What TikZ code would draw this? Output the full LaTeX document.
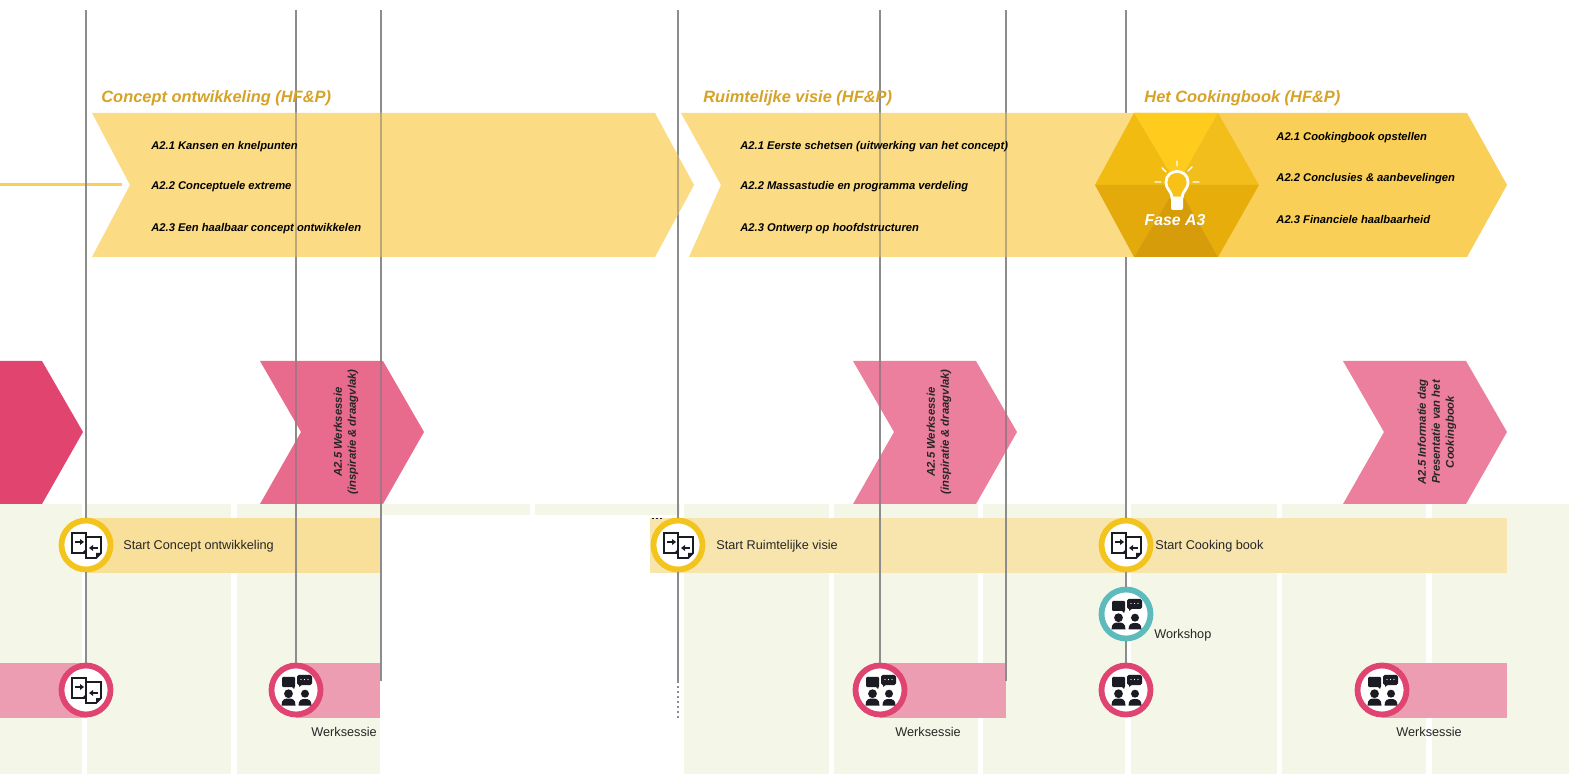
\documentclass[tikz,border=0pt]{standalone}
\usepackage{fontspec}
\setmainfont{Liberation Sans}
\definecolor{panel}{HTML}{F4F6E7}
\definecolor{yelA}{HTML}{FBDC85}
\definecolor{yelB}{HTML}{F9CF57}
\definecolor{bandY}{HTML}{F9E09A}
\definecolor{bandYb}{HTML}{F8E5AE}
\definecolor{bandP}{HTML}{EC9DB1}
\definecolor{pinkA}{HTML}{E0446F}
\definecolor{pinkB}{HTML}{E86B8D}
\definecolor{pinkC}{HTML}{EC7F9E}
\definecolor{ringY}{HTML}{F4C41E}
\definecolor{ringT}{HTML}{5DBBBE}
\definecolor{ringP}{HTML}{DF4570}
\definecolor{vline}{HTML}{8C8C8C}
\definecolor{vlineY}{HTML}{B8A77A}
\definecolor{vlineP}{HTML}{A57585}
\definecolor{gold}{HTML}{D6A227}
\definecolor{icon}{HTML}{1B1B24}
\definecolor{fa}{HTML}{FFCB1C}
\definecolor{fb}{HTML}{F1BB12}
\definecolor{fc}{HTML}{F2BE1C}
\definecolor{fd}{HTML}{E4AA0B}
\definecolor{fe}{HTML}{E6AD0B}
\definecolor{ff}{HTML}{D69C0A}
\tikzset{
  x=0.5pt,y=-0.5pt,
  panelbox/.style={fill=panel,draw=none},
  vl/.style={draw=vline,line width=0.65pt},
  vly/.style={draw=vlineY,line width=0.65pt},
  vlp/.style={draw=vlineP,line width=0.65pt},
  ring/.style={circle,draw=#1,line width=2.9pt,fill=white,minimum size=24.5pt,inner sep=0pt,outer sep=1.45pt},
  titletext/.style={font=\fontsize{8.2}{9}\selectfont\bfseries\itshape,text=gold,anchor=west,inner sep=0pt},
  itemtext/.style={font=\fontsize{5.6}{6.5}\selectfont\bfseries\itshape,text=black,anchor=west,inner sep=0pt},
  labeltext/.style={font=\fontsize{6.35}{7}\selectfont,text=black!85,anchor=west,inner sep=0pt},
  vertext/.style={font=\fontsize{5.65}{7}\selectfont\bfseries\itshape,text=black!85,rotate=90,align=center,inner sep=0pt},
  pics/exch/.style={code={
    \draw[icon,line width=0.9pt,fill=white] (-14,-12) rectangle (0,8);
    \fill[icon] (-4,8) -- (0,8) -- (0,4) -- cycle;
    \draw[icon,line width=0.9pt,fill=white] (0,-8) -- (15,-8) -- (15,8) -- (10,13) -- (0,13) -- cycle;
    \fill[icon] (15,8) -- (10,13) -- (10,8) -- cycle;
    \draw[icon,line width=0.8pt] (-11,-3) -- (-5,-3);
    \fill[icon] (-2,-3) -- (-6,-6) -- (-6,0) -- cycle;
    \draw[icon,line width=0.8pt] (12,3) -- (6,3);
    \fill[icon] (3,3) -- (7,0) -- (7,6) -- cycle;
  }},
  pics/people/.style={code={
    \fill[icon,rounded corners=0.5pt] (-14,-13) rectangle (-1,-3);
    \fill[icon] (-5,-4) -- (-1,-4) -- (-2,-1) -- cycle;
    \fill[icon,rounded corners=0.8pt] (1,-15) rectangle (16,-5);
    \fill[icon] (3,-6) -- (7,-6) -- (3,-3) -- cycle;
    \fill[white] (5,-10.5) circle (0.7) (8.5,-10.5) circle (0.7) (12,-10.5) circle (0.7);
    \fill[icon] (-7.5,3.7) circle (4.4) (9,3.7) circle (4);
    \fill[icon] (-14.5,15.5) .. controls (-14.5,9) and (-11,8.5) .. (-7.5,8.5) .. controls (-4,8.5) and (-0.5,9) .. (-0.5,15.5) -- cycle;
    \fill[icon] (2.5,15.5) .. controls (2.5,10) and (5.5,9) .. (9,9) .. controls (12.5,9) and (15.5,10) .. (15.5,15.5) -- cycle;
  }},
}
\begin{document}
\begin{tikzpicture}
\useasboundingbox (0,0) rectangle (1569,774);
\fill[white] (0,0) rectangle (1569,774);
% panels
\foreach \a/\b in {0/82,87/231,237/380,684/829,834/978,983/1125,1131/1277,1282/1426,1432/1569}
  \fill[panelbox] (\a,504) rectangle (\b,774);
\foreach \a/\b in {380/530,535/680}
  \fill[panelbox] (\a,504) rectangle (\b,515);
% bands
\fill[bandY] (87,518) rectangle (380,573);
\fill[bandYb] (650,518) rectangle (1507,573);
\fill[bandP] (0,663) rectangle (87,718);
\fill[bandP] (296,663) rectangle (380,718);
\fill[bandP] (880,663) rectangle (1006,718);
\fill[bandP] (1382,663) rectangle (1507,718);
% pink tip at far left and far right (no lines cross them)
\fill[pinkA] (0,361) -- (42,361) -- (83,432) -- (42,504) -- (0,504) -- cycle;
\fill[pinkC] (1343,361) -- (1466,361) -- (1507,432) -- (1466,504) -- (1343,504) -- (1384,432) -- cycle;
% feed line
\coordinate (feedA) at (0,185);
\coordinate (feedB) at (122,185);
\draw[draw=yelB,line width=1.5pt] (feedA) -- (feedB);
% rings
\node[ring=ringY] (c1) at (86,545) {};
\node[ring=ringY] (c2) at (678,545) {};
\node[ring=ringY] (c3) at (1126,545) {};
\node[ring=ringT] (w1) at (1126,614) {};
\node[ring=ringP] (p1) at (86,690) {};
\node[ring=ringP] (p2) at (296,690) {};
\node[ring=ringP] (p3) at (880,690) {};
\node[ring=ringP] (p4) at (1126,690) {};
\node[ring=ringP] (p5) at (1382,690) {};
% vertical lines
\coordinate (t1) at (86,10);
\coordinate (t2) at (296,10);
\coordinate (t3) at (381,10);
\coordinate (t4) at (678,10);
\coordinate (t5) at (880,10);
\coordinate (t6) at (1006,10);
\coordinate (t7) at (1126,10);
\coordinate (b3) at (381,681);
\coordinate (b4) at (678,681);
\coordinate (b4d) at (678,718);
\coordinate (b6) at (1006,681);
\draw[vl] (t1) -- (c1) (c1) -- (p1);
\draw[vl] (t2) -- (p2);
\draw[vl] (t3) -- (b3);
\draw[vl] (t4) -- (c2) (c2) -- (b4);
\draw[vl,dash pattern=on 1pt off 1.5pt] (b4) -- (b4d);
\draw[vl] (t5) -- (p3);
\draw[vl] (t6) -- (b6);
\draw[vl] (t7) -- (c3) (c3) -- (w1) (w1) -- (p4);
\coordinate (da) at (652,518);
\coordinate (db) at (664,518);
\draw[icon,line width=0.35pt,dash pattern=on 1pt off 1pt] (da) -- (db);
\pic at (86,545) {exch};
\pic at (678,545) {exch};
\pic at (1126,545) {exch};
\pic at (86,690) {exch};
\pic at (1126,614) {people};
\pic at (296,690) {people};
\pic at (880,690) {people};
\pic at (1126,690) {people};
\pic at (1382,690) {people};
% chevrons over the lines; the lines show faintly through them
\fill[yelA] (681,113) -- (1140,113) -- (1140,257) -- (689,257) -- (721,185) -- cycle;
\fill[yelA] (92,113) -- (655,113) -- (694,185) -- (655,257) -- (92,257) -- (130,185) -- cycle;
\fill[pinkB] (260,361) -- (383,361) -- (424,432) -- (383,504) -- (260,504) -- (301,432) -- cycle;
\fill[pinkC] (853,361) -- (976,361) -- (1017,432) -- (976,504) -- (853,504) -- (894,432) -- cycle;
\begin{scope}
  \clip (92,113) -- (655,113) -- (694,185) -- (655,257) -- (92,257) -- (130,185) -- cycle;
  \draw[vly] (t2) -- (p2) (t3) -- (b3) (t4) -- (b4);
\end{scope}
\begin{scope}
  \clip (681,113) -- (1118,113) -- (1118,257) -- (689,257) -- (721,185) -- cycle;
  \draw[vly] (t5) -- (p3) (t6) -- (b6);
\end{scope}
\begin{scope}
  \clip (260,361) -- (383,361) -- (424,432) -- (383,504) -- (260,504) -- (301,432) -- cycle;
  \draw[vlp] (t2) -- (p2) (t3) -- (b3);
\end{scope}
\begin{scope}
  \clip (853,361) -- (976,361) -- (1017,432) -- (976,504) -- (853,504) -- (894,432) -- cycle;
  \draw[vlp] (t5) -- (p3) (t6) -- (b6);
\end{scope}
% third chevron and hexagon
\fill[yelB] (1134,113) -- (1467,113) -- (1507,185) -- (1467,257) -- (1134,257) -- cycle;
\coordinate (hc) at (1177,185);
\fill[fa] (hc) -- (1134,113) -- (1218,113) -- cycle;
\fill[fb] (hc) -- (1134,113) -- (1095,185) -- cycle;
\fill[fc] (hc) -- (1218,113) -- (1259,185) -- cycle;
\fill[fd] (hc) -- (1095,185) -- (1134,257) -- cycle;
\fill[fe] (hc) -- (1259,185) -- (1218,257) -- cycle;
\fill[ff] (hc) -- (1134,257) -- (1218,257) -- cycle;
% bulb
\draw[white,line width=1.4pt,fill=fa!70!fd] (1172,198) .. controls (1172,191) and (1166,190) .. (1166,182) .. controls (1166,168) and (1188,168) .. (1188,182) .. controls (1188,190) and (1182,191) .. (1182,198) -- cycle;
\fill[white,rounded corners=1pt] (1171,197) rectangle (1183,210);
\draw[white,line width=0.7pt,line cap=round]
  (1177,161) -- (1177,166) (1162,168) -- (1166,172) (1192,167) -- (1188,171)
  (1155,182) -- (1161,182) (1193,182) -- (1199,182);
% texts
\node[titletext] (tt1) at (101,98) {Concept ontwikkeling (HF\&P)};
\node[titletext] (tt2) at (703,98) {Ruimtelijke visie (HF\&P)};
\node[titletext] (tt3) at (1144,98) {Het Cookingbook (HF\&P)};
\node[itemtext] (i11) at (151,146.5) {A2.1 Kansen en knelpunten};
\node[itemtext] (i12) at (151,186.5) {A2.2 Conceptuele extreme};
\node[itemtext] (i13) at (151,228.5) {A2.3 Een haalbaar concept ontwikkelen};
\node[itemtext] (i21) at (740,146.5) {A2.1 Eerste schetsen (uitwerking van het concept)};
\node[itemtext] (i22) at (740,186.5) {A2.2 Massastudie en programma verdeling};
\node[itemtext] (i23) at (740,228.5) {A2.3 Ontwerp op hoofdstructuren};
\node[itemtext] (i31) at (1276,137.5) {A2.1 Cookingbook opstellen};
\node[itemtext] (i32) at (1276,178.5) {A2.2 Conclusies \& aanbevelingen};
\node[itemtext] (i33) at (1276,219.5) {A2.3 Financiele haalbaarheid};
\node[font=\fontsize{7.9}{9}\selectfont\bfseries\itshape,text=white,inner sep=0pt] (fase) at (1175,220) {Fase A3};
\node[vertext] (v1) at (346,432) {A2.5 Werksessie\\(inspiratie \& draagvlak)};
\node[vertext] (v2) at (939,432) {A2.5 Werksessie\\(inspiratie \& draagvlak)};
\node[vertext] (v3) at (1437,432) {A2.5 Informatie dag\\Presentatie van het\\Cookingbook};
\node[labeltext] (l1) at (123,546) {Start Concept ontwikkeling};
\node[labeltext] (l2) at (716,546) {Start Ruimtelijke visie};
\node[labeltext] (l3) at (1155,546) {Start Cooking book};
\node[labeltext] (l4) at (1154,635.5) {Workshop};
\node[labeltext] (l5) at (311,731.5) {Werksessie};
\node[labeltext] (l6) at (895,731.5) {Werksessie};
\node[labeltext] (l7) at (1396,731.5) {Werksessie};
\end{tikzpicture}
\end{document}
